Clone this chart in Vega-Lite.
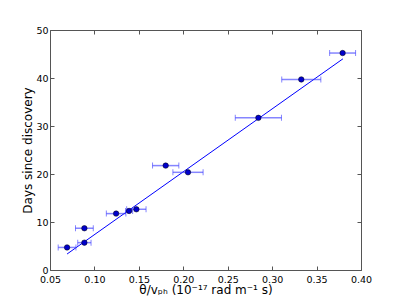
{
  "$schema": "https://vega.github.io/schema/vega-lite/v6.json",
  "width": 311,
  "height": 240,
  "autosize": "none",
  "padding": {"left": 50, "top": 30, "right": 39, "bottom": 30},
  "background": "white",
  "config": {
    "view": {"stroke": "#555555", "strokeWidth": 1},
    "font": "DejaVu Sans",
    "axis": {
      "grid": false,
      "domain": false,
      "tickSize": -4,
      "tickColor": "#555555",
      "labelPadding": 8,
      "labelFlush": false,
      "labelOverlap": false,
      "labelFont": "DejaVu Sans",
      "labelFontSize": 9.5,
      "labelColor": "#000000",
      "titleFont": "DejaVu Sans",
      "titleFontSize": 12,
      "titleFontWeight": "normal",
      "titleColor": "#000000"
    }
  },
  "datasets": {
    "pts": [
      {"x": 0.0692, "y": 4.7, "xerr": 0.010},
      {"x": 0.0887, "y": 5.7, "xerr": 0.0075},
      {"x": 0.0887, "y": 8.7, "xerr": 0.010},
      {"x": 0.1244, "y": 11.75, "xerr": 0.011},
      {"x": 0.1390, "y": 12.3, "xerr": 0.004},
      {"x": 0.1472, "y": 12.65, "xerr": 0.0109},
      {"x": 0.1802, "y": 21.75, "xerr": 0.0148},
      {"x": 0.2053, "y": 20.35, "xerr": 0.017},
      {"x": 0.2845, "y": 31.7, "xerr": 0.026},
      {"x": 0.3328, "y": 39.7, "xerr": 0.022},
      {"x": 0.3793, "y": 45.2, "xerr": 0.0146}
    ],
    "fit": [
      {"x": 0.0692, "y": 3.33},
      {"x": 0.3797, "y": 44.0}
    ]
  },
  "resolve": {"axis": {"x": "independent", "y": "independent"}},
  "layer": [
    {
      "data": {"name": "fit"},
      "mark": {"type": "line", "color": "#0000ff", "strokeWidth": 1},
      "encoding": {
        "x": {"field": "x", "type": "quantitative", "scale": {"domain": [0.05, 0.4], "nice": false, "zero": false},
          "axis": {"title": "θ/vₚₕ (10⁻¹⁷  rad m⁻¹  s)", "values": [0.05, 0.1, 0.15, 0.2, 0.25, 0.3, 0.35, 0.4], "format": ".2f", "titlePadding": 1}},
        "y": {"field": "y", "type": "quantitative", "scale": {"domain": [0, 50], "nice": false},
          "axis": {"title": "Days since discovery", "values": [0, 10, 20, 30, 40, 50], "labelPadding": 6, "titlePadding": 1}}
      }
    },
    {
      "data": {"name": "pts"},
      "mark": {"type": "errorbar", "ticks": {"color": "#3333ff", "opacity": 0.6, "size": 6}, "rule": {"color": "#3333ff", "opacity": 0.6, "strokeWidth": 1.5}},
      "encoding": {
        "x": {"field": "x", "type": "quantitative", "axis": {"orient": "top", "labels": false, "title": null, "values": [0.05, 0.1, 0.15, 0.2, 0.25, 0.3, 0.35, 0.4]}},
        "xError": {"field": "xerr"},
        "y": {"field": "y", "type": "quantitative", "axis": {"orient": "right", "labels": false, "title": null, "values": [0, 10, 20, 30, 40, 50]}}
      }
    },
    {
      "data": {"name": "pts"},
      "mark": {"type": "point", "filled": true, "color": "#0000cc", "size": 30, "opacity": 1, "stroke": "#000000", "strokeWidth": 0.5},
      "encoding": {
        "x": {"field": "x", "type": "quantitative", "axis": null},
        "y": {"field": "y", "type": "quantitative", "axis": null}
      }
    }
  ]
}
